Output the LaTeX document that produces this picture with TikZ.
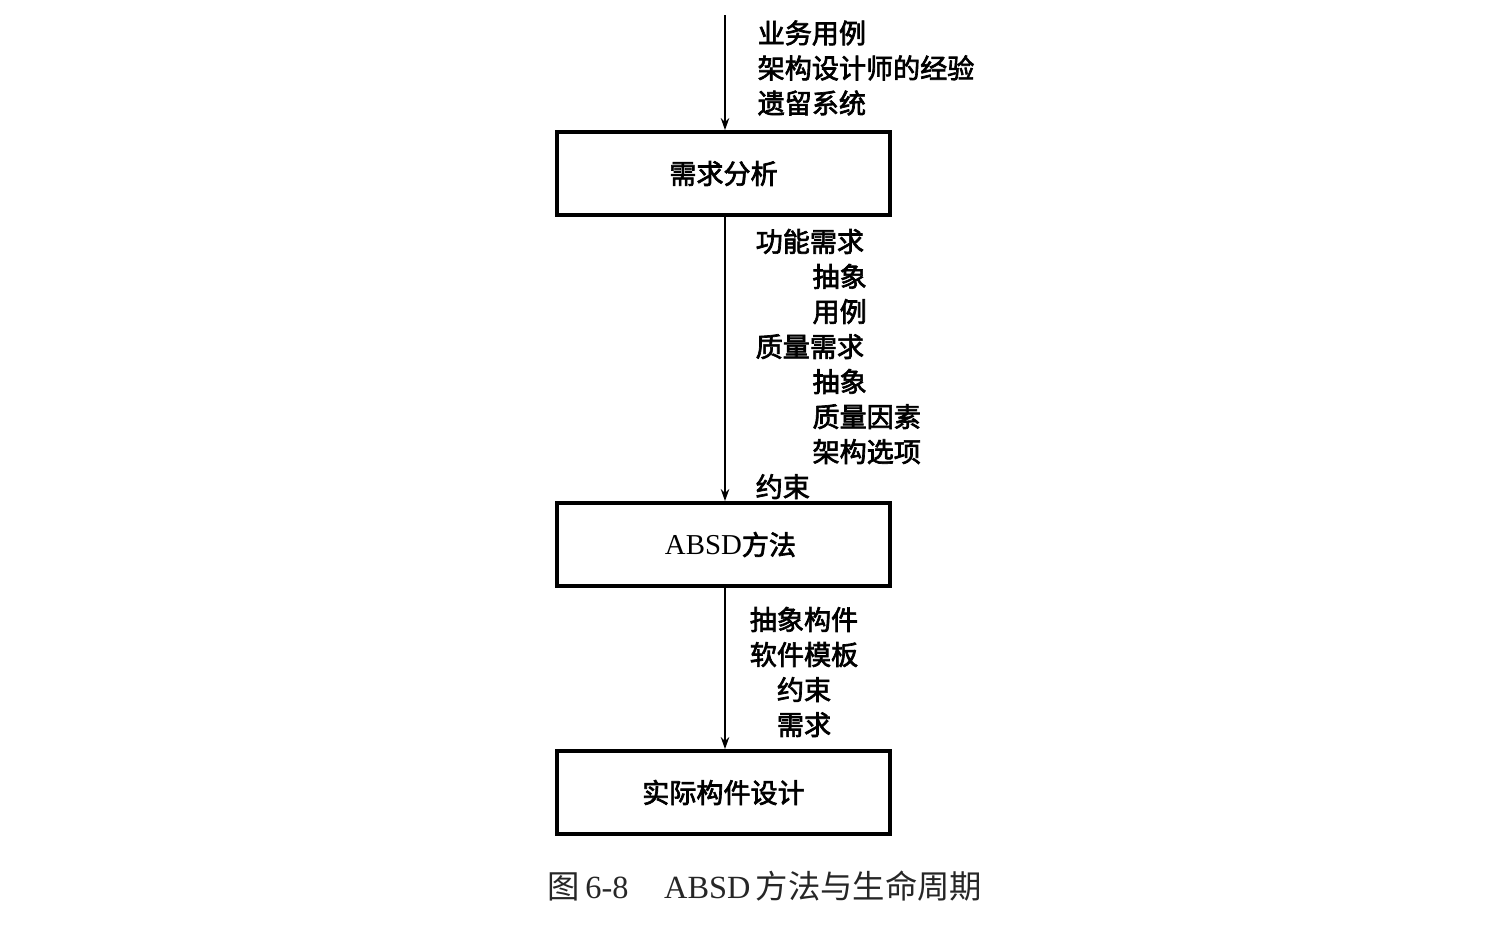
\documentclass[tikz,border=0pt]{standalone}
\usepackage{fontspec}
\setmainfont{Liberation Serif}
\newfontfamily\cjk{Noto Sans CJK SC}
\newfontfamily\cjkm[FakeBold=2.5]{Noto Sans CJK SC}
\usetikzlibrary{arrows.meta}
\newcommand\lbfont{\fontsize{7.7pt}{9.96pt}\selectfont\cjkm}
\newcommand\capfont{\fontsize{9.2pt}{11pt}\selectfont}
\tikzset{
    RA1/.style ={rectangle,minimum width = 3.33cm, minimum height = 0.83cm, draw=black, line width=1.1pt, inner sep=0pt, font=\lbfont},
    LB1/.style ={inner sep=0pt, anchor=west, align=left, font=\lbfont},
    LB2/.style ={inner sep=0pt, align=center, font=\lbfont},
    AR1/.style ={-{Stealth[length=3.4pt,width=2.4pt]}, line width=0.45pt}
}

\begin{document}
\begin{tikzpicture}[x=0.01cm,y=-0.01cm]
        \useasboundingbox (0,0) rectangle (1500,926);
        \node[RA1] (req) at (723.5,173.5) {需求分析};
        \node[RA1] (absd) at (723.5,544.5) {\hspace*{0.14cm}{\rmfamily\fontsize{8.2pt}{10pt}\selectfont ABSD}方法};
        \node[RA1] (impl) at (723.5,792.5) {实际构件设计};
        \coordinate (top) at (725,15);
        \draw[AR1] (top) -- (top |- req.north);
        \draw[AR1] (req.south -| top) -- (absd.north -| top);
        \draw[AR1] (absd.south -| top) -- (impl.north -| top);
        \node[LB1] (in1) at (757,68) {业务用例\\架构设计师的经验\\遗留系统};
        \node[LB1] (in2) at (755,364) {功能需求\\\hspace*{2.1em}抽象\\\hspace*{2.1em}用例\\质量需求\\
            \hspace*{2.1em}抽象\\\hspace*{2.1em}质量因素\\\hspace*{2.1em}架构选项\\约束};
        \node[LB2] (in3) at (804,672) {抽象构件\\软件模板\\约束\\需求};
        \node[inner sep=0pt, anchor=west, text=black!85, font=\capfont] (cap) at (547,886)
            {{\cjk 图}\,6-8\hspace{1.1em}ABSD\,{\cjk 方法与生命周期}};
\end{tikzpicture}
\end{document}
